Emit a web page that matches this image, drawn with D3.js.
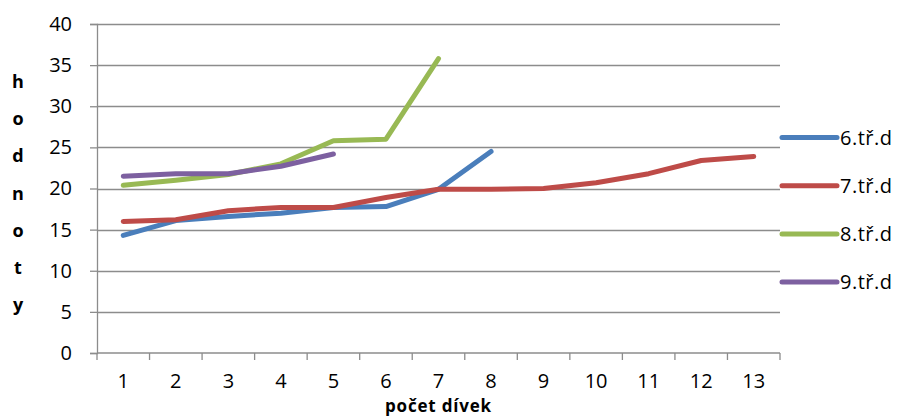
<!DOCTYPE html>
<html>
<head>
<meta charset="utf-8">
<script src="https://cdn.jsdelivr.net/npm/d3@7/dist/d3.min.js"></script>
<style>
  body { margin: 0; background: #fff; }
  text { font-family: "Open Sans", sans-serif; }
</style>
</head>
<body>
<div id="chart"></div>
<script>
// values
var categories = [1, 2, 3, 4, 5, 6, 7, 8, 9, 10, 11, 12, 13];
var yTicks = [0, 5, 10, 15, 20, 25, 30, 35, 40];
var seriesNames = ["6.tř.d", "7.tř.d", "8.tř.d", "9.tř.d"];
var values6 = [14.3, 16.1, 16.6, 17.0, 17.7, 17.8, 19.9, 24.5];
var values7 = [16.0, 16.2, 17.3, 17.7, 17.7, 18.9, 19.9, 19.9, 20.0, 20.7, 21.8, 23.4, 23.9];
var values8 = [20.4, 21.0, 21.7, 23.0, 25.8, 26.0, 35.8];
var values9 = [21.5, 21.8, 21.8, 22.7, 24.2];
var colors = ["#4A7EBB", "#BE4B48", "#98B954", "#7D60A0"];

var svgWidth = 902;
var svgHeight = 418;

var margin = { top: 24, right: 122, bottom: 65, left: 97 };
var width = svgWidth - margin.left - margin.right;
var height = svgHeight - margin.top - margin.bottom;

var svg = d3.select("#chart")
  .append("svg")
  .attr("width", svgWidth)
  .attr("height", svgHeight);

var chartGroup = svg.append("g")
  .attr("transform", `translate(${margin.left}, ${margin.top})`);

var xScale = d3.scaleBand()
  .domain(categories)
  .range([0, width])
  .padding(0);

var yScale = d3.scaleLinear()
  .domain([0, 40])
  .range([height, 0]);

// gridlines
chartGroup.selectAll(".grid")
  .data(yTicks.filter(d => d > 0))
  .enter()
  .append("line")
  .attr("x1", 0)
  .attr("x2", width)
  .attr("y1", d => Math.round(yScale(d)) + 0.5)
  .attr("y2", d => Math.round(yScale(d)) + 0.5)
  .attr("stroke", "#8c8c8c")
  .attr("stroke-width", 1.3);

// y axis
var leftAxis = d3.axisLeft(yScale).tickValues(yTicks).tickSize(7).tickPadding(18);
var yAxisG = chartGroup.append("g").call(leftAxis);
yAxisG.select(".domain").attr("stroke", "#8c8c8c").attr("stroke-width", 1.3);
yAxisG.selectAll(".tick line").attr("stroke", "#8c8c8c").attr("stroke-width", 1.3);
yAxisG.selectAll(".tick text")
  .attr("font-size", "20px")
  .attr("fill", "#000")
  .style("font-family", "'Open Sans', sans-serif");

// x axis: tick marks at category boundaries, labels at centres
var xAxisG = chartGroup.append("g")
  .attr("transform", `translate(0, ${height})`);
xAxisG.append("line")
  .attr("x1", 0).attr("x2", width)
  .attr("y1", 0).attr("y2", 0)
  .attr("stroke", "#8c8c8c").attr("stroke-width", 1.3);
xAxisG.selectAll(".xtick")
  .data(categories.concat(["end"]))
  .enter()
  .append("line")
  .attr("x1", (d, i) => i < categories.length ? xScale(d) : width)
  .attr("x2", (d, i) => i < categories.length ? xScale(d) : width)
  .attr("y1", 0)
  .attr("y2", 7)
  .attr("stroke", "#8c8c8c").attr("stroke-width", 1.3);
xAxisG.selectAll(".xlabel")
  .data(categories)
  .enter()
  .append("text")
  .attr("x", d => xScale(d) + xScale.bandwidth() / 2)
  .attr("y", 35)
  .attr("text-anchor", "middle")
  .attr("font-size", "20px")
  .text(d => d);

// axis titles
chartGroup.append("text")
  .attr("x", xScale(7) + xScale.bandwidth() / 2)
  .attr("y", height + 59)
  .attr("text-anchor", "middle")
  .attr("font-size", "17px")
  .attr("font-weight", "bold")
  .attr("letter-spacing", "0.8px")
  .text("počet dívek");

var yTitle = ["h", "o", "d", "n", "o", "t", "y"];
svg.selectAll(".ytitle")
  .data(yTitle)
  .enter()
  .append("text")
  .attr("x", 18)
  .attr("y", (d, i) => 88 + i * 37.2)
  .attr("text-anchor", "middle")
  .attr("font-size", "18px")
  .attr("font-weight", "bold")
  .text(d => d);

// lines
var allSeries = [values6, values7, values8, values9];
var line = d3.line()
  .x((d, i) => xScale(categories[i]) + xScale.bandwidth() / 2)
  .y(d => yScale(d));

chartGroup.selectAll(".series")
  .data(allSeries)
  .enter()
  .append("path")
  .attr("d", d => line(d))
  .attr("fill", "none")
  .attr("stroke", (d, i) => colors[i])
  .attr("stroke-width", 5)
  .attr("stroke-linecap", "round")
  .attr("stroke-linejoin", "round");

// legend
var legend = svg.selectAll(".legend")
  .data(seriesNames)
  .enter()
  .append("g")
  .attr("transform", (d, i) => `translate(782, ${137.5 + i * 48.2})`);
legend.append("line")
  .attr("x1", 0).attr("x2", 55)
  .attr("y1", 0).attr("y2", 0)
  .attr("stroke", (d, i) => colors[i])
  .attr("stroke-width", 5)
  .attr("stroke-linecap", "round");
legend.append("text")
  .attr("x", 58)
  .attr("y", 7)
  .attr("font-size", "20px")
  .attr("letter-spacing", "0.5px")
  .text(d => d);
</script>
</body>
</html>
